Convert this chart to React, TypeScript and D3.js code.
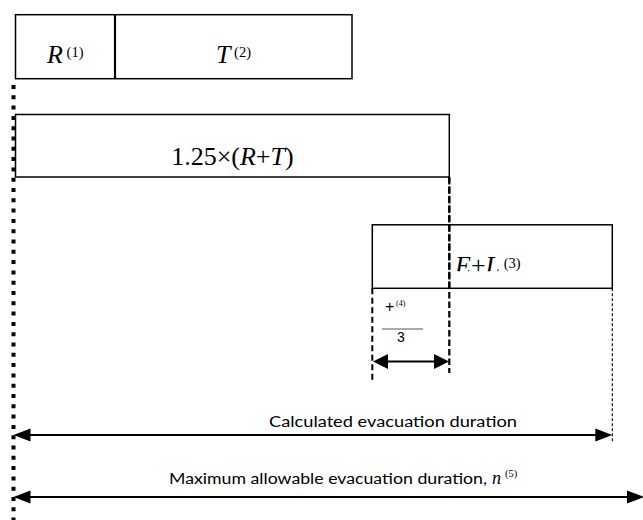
import React from 'react';
import * as d3 from 'd3';

// Timeline values (arbitrary time units)
const originTime = 0.5;
const rStart = 2.5;
const rEnd = 102;
const tEnd = 339;
const scaledEnd = 436.3;
const elStart = 359.3;
const elEnd = 599.3;
const calcEnd = 599.3;
const maxEnd = 630;

const rowNames = ['RT', 'scaled', 'EL'];
const calcLabel = 'Calculated evacuation duration';
const maxLabel = 'Maximum allowable evacuation duration,';

const W = 643;
const H = 520;

export default function App() {
  const x = d3.scaleLinear().domain([0, 630]).range([13, 643]);
  const y = d3.scaleOrdinal<string, number>().domain(rowNames).range([14.7, 114.5, 224.8]);
  const rowH = 63.5;

  const serif = '"Liberation Serif", "Times New Roman", serif';
  const sans = 'Lato, "Open Sans", sans-serif';

  const arrow = (x0: number, x1: number, yy: number, hl: number, hh: number, sw: number, key: string) => {
    const path = d3.path();
    path.moveTo(x0, yy);
    path.lineTo(x0 + hl, yy - hh);
    path.lineTo(x0 + hl, yy + hh);
    path.closePath();
    const path2 = d3.path();
    path2.moveTo(x1, yy);
    path2.lineTo(x1 - hl, yy - hh);
    path2.lineTo(x1 - hl, yy + hh);
    path2.closePath();
    return (
      <g key={key}>
        <line x1={x0 + hl - 1} x2={x1 - hl + 1} y1={yy} y2={yy} stroke="#000" strokeWidth={sw} />
        <path d={path.toString()} fill="#000" />
        <path d={path2.toString()} fill="#000" />
      </g>
    );
  };

  const yRT = y('RT');
  const ySc = y('scaled');
  const yEL = y('EL');

  return (
    <svg width={W} height={H} style={{ position: 'absolute', left: 0, top: 0, background: '#fff' }}>
      <defs>
        <clipPath id="elclip">
          <rect x={x(elStart)} y={yEL} width={x(elEnd) - x(elStart)} height={46.5} />
        </clipPath>
      </defs>
      <rect x={0} y={0} width={W} height={H} fill="#fff" />

      {/* Dashed verticals */}
      <line x1={x(scaledEnd)} x2={x(scaledEnd)} y1={ySc + rowH} y2={373} stroke="#000" strokeWidth={2.2} strokeDasharray="6.5 3" />
      <line x1={x(elStart)} x2={x(elStart)} y1={yEL + rowH} y2={381} stroke="#000" strokeWidth={2} strokeDasharray="6 3.5" />
      <line x1={x(elEnd)} x2={x(elEnd)} y1={yEL + rowH} y2={443} stroke="#000" strokeWidth={1.1} strokeDasharray="3 2" />

      {/* Row 1: R and T */}
      <rect x={x(rStart)} y={yRT} width={x(tEnd) - x(rStart)} height={rowH + 0.5} fill="none" stroke="#000" strokeWidth={1.5} />
      <line x1={x(rEnd)} x2={x(rEnd)} y1={yRT} y2={yRT + rowH + 0.5} stroke="#000" strokeWidth={2.2} />
      <text x={(x(rStart) + x(rEnd)) / 2} y={63} textAnchor="middle" fontFamily={serif} fontSize={26}>
        <tspan fontStyle="italic">R</tspan>
        <tspan fontSize={14.5} dy={-6}>{' (1)'}</tspan>
      </text>
      <text x={(x(rEnd) + x(tEnd)) / 2} y={63} textAnchor="middle" fontFamily={serif} fontSize={26}>
        <tspan fontStyle="italic">T</tspan>
        <tspan fontSize={14.5} dy={-6}>{' (2)'}</tspan>
      </text>

      {/* Row 2: 1.25×(R+T) */}
      <rect x={x(rStart)} y={ySc} width={x(scaledEnd) - x(rStart)} height={rowH - 1} fill="none" stroke="#000" strokeWidth={1.5} />
      <text x={(x(rStart) + x(scaledEnd)) / 2} y={165} textAnchor="middle" fontFamily={serif} fontSize={26}>
        <tspan>1.25×(</tspan>
        <tspan fontStyle="italic">R</tspan>
        <tspan>+</tspan>
        <tspan fontStyle="italic">T</tspan>
        <tspan>)</tspan>
      </text>

      {/* Row 3: E+L */}
      <rect x={x(elStart)} y={yEL} width={x(elEnd) - x(elStart)} height={rowH} fill="none" stroke="#000" strokeWidth={1.5} />
      <line x1={x(scaledEnd)} x2={x(scaledEnd)} y1={yEL - 48} y2={yEL + rowH} stroke="#000" strokeWidth={2.2} strokeDasharray="6.5 3" />
      <g clipPath="url(#elclip)">
        <text x={455} y={274} fontFamily={serif} fontSize={26}>
          <tspan fontStyle="italic">E</tspan>
          <tspan>+</tspan>
          <tspan fontStyle="italic">L</tspan>
          <tspan fontSize={14.5} dy={-6}>{' (3)'}</tspan>
        </text>
      </g>

      {/* Fraction label */}
      <text x={385} y={312} fontFamily={'"Liberation Sans", Arial, sans-serif'} fontSize={16}>+</text>
      <text x={396} y={306} fontFamily={serif} fontSize={8}>(4)</text>
      <line x1={382} x2={423} y1={329} y2={329} stroke="#555" strokeWidth={1.2} />
      <text x={401} y={342} textAnchor="middle" fontFamily={'"Liberation Sans", Arial, sans-serif'} fontSize={14}>3</text>
      {arrow(x(elStart) + 0.7, x(scaledEnd) - 0.3, 361.5, 15, 7.5, 2, 'frac')}

      {/* Origin dotted line */}
      <line x1={x(originTime)} x2={x(originTime)} y1={85} y2={H} stroke="#000" strokeWidth={4} strokeDasharray="4 6.3" />

      {/* Calculated */}
      <text x={269} y={427} fontFamily={sans} fontSize={15.5} textLength={248} lengthAdjust="spacingAndGlyphs">{calcLabel}</text>
      {arrow(x(originTime), x(calcEnd), 435, 17, 6.5, 2, 'calc')}

      {/* Maximum */}
      <text x={169} y={484} fontFamily={sans} fontSize={15.5} textLength={318} lengthAdjust="spacingAndGlyphs">{maxLabel}</text>
      <text x={492} y={484} fontFamily={serif} fontSize={18} fontStyle="italic">n</text>
      <text x={505} y={477} fontFamily={serif} fontSize={10.5}>(5)</text>
      {arrow(x(originTime), x(maxEnd) + 1, 497, 17, 6.5, 2, 'max')}
    </svg>
  );
}
